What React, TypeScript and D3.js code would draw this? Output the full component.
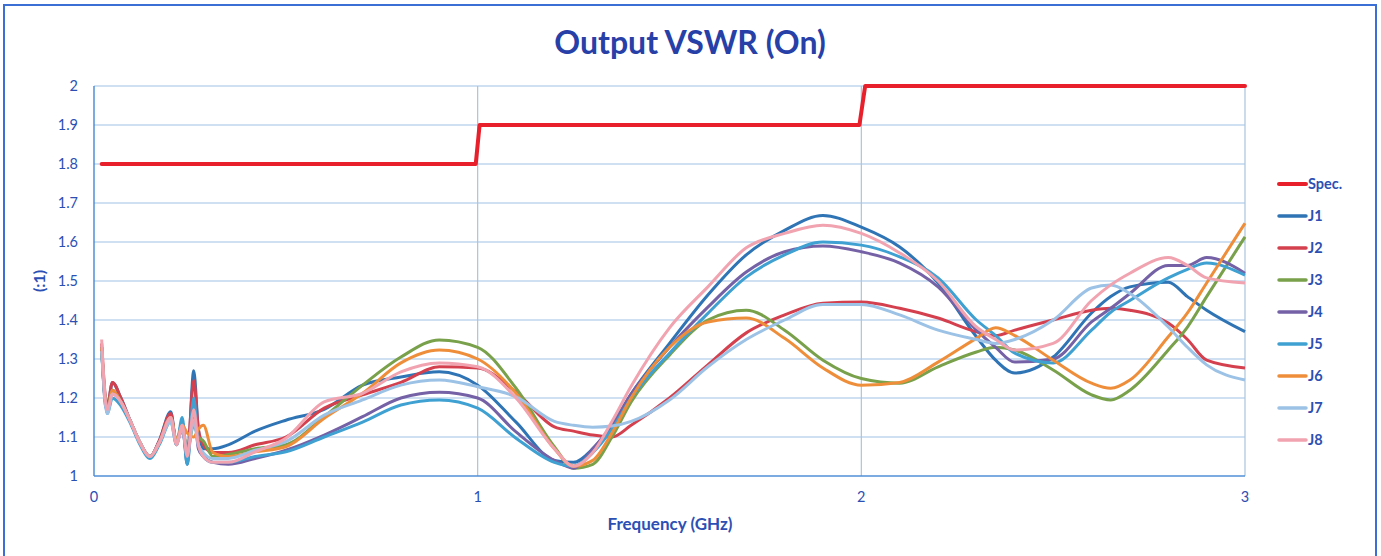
import React from 'react';
import * as d3 from 'd3';

// frequency grid (GHz) shared by all measured traces
const freqs = [0.02, 0.03, 0.035, 0.048, 0.07, 0.095, 0.12, 0.146, 0.17, 0.2, 0.215, 0.23, 0.243, 0.26, 0.272, 0.285, 0.31, 0.35, 0.42, 0.5,
  0.6, 0.7, 0.8, 0.9, 1.0, 1.1, 1.2, 1.25, 1.3, 1.35, 1.4, 1.5, 1.6, 1.7, 1.8, 1.9, 2.0, 2.1, 2.2, 2.3,
  2.35, 2.4, 2.5, 2.6, 2.65, 2.7, 2.8, 2.85, 2.9, 3.0];

const j1 = [1.33, 1.19, 1.18, 1.24, 1.20, 1.14, 1.085, 1.05, 1.09, 1.165, 1.08, 1.14, 1.03, 1.27, 1.12, 1.07, 1.07, 1.08, 1.115, 1.143,
  1.171, 1.233, 1.254, 1.267, 1.233, 1.138, 1.04, 1.035, 1.07, 1.13, 1.21, 1.34, 1.464, 1.567, 1.63, 1.668, 1.638, 1.587, 1.495, 1.357,
  1.297, 1.264, 1.305, 1.418, 1.46, 1.485, 1.497, 1.46, 1.425, 1.37];
const j2 = [1.34, 1.20, 1.18, 1.24, 1.20, 1.14, 1.085, 1.05, 1.09, 1.16, 1.085, 1.13, 1.06, 1.245, 1.12, 1.08, 1.06, 1.06, 1.08, 1.10,
  1.174, 1.208, 1.24, 1.28, 1.277, 1.215, 1.126, 1.115, 1.105, 1.10, 1.13, 1.20, 1.285, 1.367, 1.413, 1.443, 1.446, 1.43, 1.405, 1.37,
  1.36, 1.374, 1.40, 1.425, 1.43, 1.425, 1.392, 1.35, 1.297, 1.277];
const j3 = [1.33, 1.19, 1.18, 1.22, 1.19, 1.14, 1.085, 1.05, 1.085, 1.15, 1.09, 1.12, 1.07, 1.13, 1.10, 1.09, 1.05, 1.055, 1.07, 1.08,
  1.152, 1.233, 1.305, 1.349, 1.33, 1.225, 1.075, 1.02, 1.03, 1.10, 1.19, 1.31, 1.40, 1.425, 1.374, 1.297, 1.25, 1.238, 1.28, 1.318,
  1.33, 1.323, 1.272, 1.208, 1.195, 1.22, 1.323, 1.382, 1.46, 1.613];
const j4 = [1.33, 1.18, 1.17, 1.22, 1.19, 1.14, 1.085, 1.05, 1.085, 1.15, 1.085, 1.12, 1.05, 1.17, 1.07, 1.05, 1.035, 1.03, 1.045, 1.066,
  1.105, 1.152, 1.20, 1.215, 1.20, 1.113, 1.04, 1.02, 1.07, 1.13, 1.21, 1.33, 1.433, 1.523, 1.575, 1.59, 1.575, 1.546, 1.485, 1.374,
  1.33, 1.292, 1.30, 1.395, 1.43, 1.468, 1.54, 1.54, 1.56, 1.52];
const j5 = [1.32, 1.19, 1.16, 1.20, 1.18, 1.135, 1.08, 1.045, 1.08, 1.14, 1.08, 1.15, 1.03, 1.20, 1.08, 1.05, 1.035, 1.035, 1.05, 1.062,
  1.10, 1.138, 1.182, 1.195, 1.174, 1.097, 1.035, 1.025, 1.06, 1.12, 1.20, 1.315, 1.417, 1.51, 1.567, 1.60, 1.592, 1.562, 1.508, 1.40,
  1.36, 1.315, 1.29, 1.374, 1.42, 1.45, 1.508, 1.53, 1.546, 1.515];
const j6 = [1.33, 1.19, 1.17, 1.22, 1.19, 1.14, 1.085, 1.05, 1.085, 1.15, 1.09, 1.13, 1.11, 1.10, 1.12, 1.13, 1.06, 1.05, 1.062, 1.075,
  1.148, 1.212, 1.29, 1.323, 1.30, 1.212, 1.07, 1.025, 1.04, 1.11, 1.20, 1.33, 1.395, 1.405, 1.353, 1.277, 1.233, 1.24, 1.292, 1.353,
  1.38, 1.36, 1.297, 1.238, 1.225, 1.246, 1.357, 1.418, 1.495, 1.648];
const j7 = [1.32, 1.18, 1.16, 1.21, 1.19, 1.14, 1.085, 1.05, 1.085, 1.14, 1.085, 1.12, 1.06, 1.14, 1.08, 1.06, 1.045, 1.045, 1.066, 1.088,
  1.156, 1.195, 1.233, 1.246, 1.229, 1.203, 1.14, 1.13, 1.125, 1.128, 1.14, 1.195, 1.28, 1.35, 1.40, 1.44, 1.44, 1.413, 1.374, 1.35,
  1.34, 1.35, 1.40, 1.482, 1.49, 1.468, 1.382, 1.33, 1.285, 1.246];
const j8 = [1.35, 1.19, 1.17, 1.21, 1.19, 1.14, 1.085, 1.05, 1.085, 1.15, 1.08, 1.13, 1.05, 1.17, 1.08, 1.05, 1.035, 1.035, 1.062, 1.097,
  1.19, 1.212, 1.267, 1.29, 1.28, 1.20, 1.07, 1.025, 1.06, 1.14, 1.23, 1.38, 1.485, 1.585, 1.622, 1.643, 1.622, 1.572, 1.50, 1.382,
  1.35, 1.323, 1.34, 1.45, 1.49, 1.52, 1.56, 1.54, 1.508, 1.495];

// spec limit (step)
const specFreq = [0.02, 0.995, 1.005, 1.995, 2.01, 3.0];
const specVal = [1.8, 1.8, 1.9, 1.9, 2.0, 2.0];

const yTicks = [1, 1.1, 1.2, 1.3, 1.4, 1.5, 1.6, 1.7, 1.8, 1.9, 2];
const xTicks = [0, 1, 2, 3];

const seriesNames = ['J1', 'J2', 'J3', 'J4', 'J5', 'J6', 'J7', 'J8'];
const seriesVals = [j1, j2, j3, j4, j5, j6, j7, j8];
const seriesColors = ['#2f74b5', '#d4404e', '#79a04a', '#7461a6', '#3fa0d2', '#ef8e3a', '#9cc2e6', '#f1a3b0'];

const W = 1381, H = 556;
const textBlue = '#2c4fb4';

export default function App() {
  const x = d3.scaleLinear().domain([0, 3]).range([94, 1245]);
  const y = d3.scaleLinear().domain([1, 2]).range([476, 86]);

  const line = d3.line<[number, number]>()
    .x(d => x(d[0]))
    .y(d => y(d[1]))
    .curve(d3.curveMonotoneX);
  const specLine = d3.line<[number, number]>()
    .x(d => x(d[0]))
    .y(d => y(d[1]));

  const font = 'Lato, "Open Sans", sans-serif';

  return (
    <svg width={W} height={H} style={{ position: 'absolute', left: 0, top: 0, background: '#fff' }}
      fontFamily={font}>
      <rect x={4} y={5} width={1372} height={H + 10} fill="#fff" stroke="#3b6fd6" strokeWidth={2} />
      <text x={690} y={54} textAnchor="middle" fontSize={32} fontWeight="bold" fill="#2640a8">Output VSWR (On)</text>

      {/* horizontal gridlines */}
      {yTicks.slice(1).map(t => (
        <line key={'h' + t} x1={x(0)} x2={x(3)} y1={y(t)} y2={y(t)} stroke="#9fc2e8" strokeWidth={1.2} />
      ))}
      {/* vertical gridlines */}
      {xTicks.slice(1).map(t => (
        <line key={'v' + t} x1={x(t)} x2={x(t)} y1={y(2)} y2={y(1)} stroke="#aac4da" strokeWidth={1.2} />
      ))}
      {/* axes */}
      <line x1={x(0)} x2={x(0)} y1={y(2)} y2={y(1)} stroke="#4f8fd6" strokeWidth={1.5} />
      <line x1={x(0)} x2={x(3)} y1={y(1)} y2={y(1)} stroke="#4f8fd6" strokeWidth={1.5} />

      {yTicks.map(t => (
        <text key={'yl' + t} x={78} y={y(t) + 5} textAnchor="end" fontSize={14.5} fill={textBlue}>{d3.format('')(+t.toFixed(1))}</text>
      ))}
      {xTicks.map(t => (
        <text key={'xl' + t} x={x(t)} y={502} textAnchor="middle" fontSize={14.5} fill={textBlue}>{t}</text>
      ))}
      <text transform={`translate(45,${y(1.5)}) rotate(-90)`} textAnchor="middle" fontSize={16} fontWeight="bold" fill={textBlue}>(:1)</text>
      <text x={670} y={530} textAnchor="middle" fontSize={17} fontWeight="bold" fill={textBlue}>Frequency (GHz)</text>

      {/* measured traces */}
      {seriesVals.map((vals, i) => (
        <path key={seriesNames[i]} d={line(freqs.map((f, k) => [f, vals[k]] as [number, number])) || ''}
          fill="none" stroke={seriesColors[i]} strokeWidth={3} strokeLinejoin="round" />
      ))}
      {/* spec */}
      <path d={specLine(specFreq.map((f, k) => [f, specVal[k]] as [number, number])) || ''}
        fill="none" stroke="#e8202c" strokeWidth={4} strokeLinejoin="round" strokeLinecap="round" />

      {/* legend */}
      {['Spec.', ...seriesNames].map((n, i) => {
        const ly = 184 + i * 32;
        const c = i === 0 ? '#e8202c' : seriesColors[i - 1];
        return (
          <g key={'lg' + n}>
            <line x1={1279} x2={1306} y1={ly} y2={ly} stroke={c} strokeWidth={i === 0 ? 4 : 3.5} strokeLinecap="round" />
            <text x={1308} y={ly + 5} fontSize={14.5} fontWeight="bold" fill={textBlue}>{n}</text>
          </g>
        );
      })}
    </svg>
  );
}
